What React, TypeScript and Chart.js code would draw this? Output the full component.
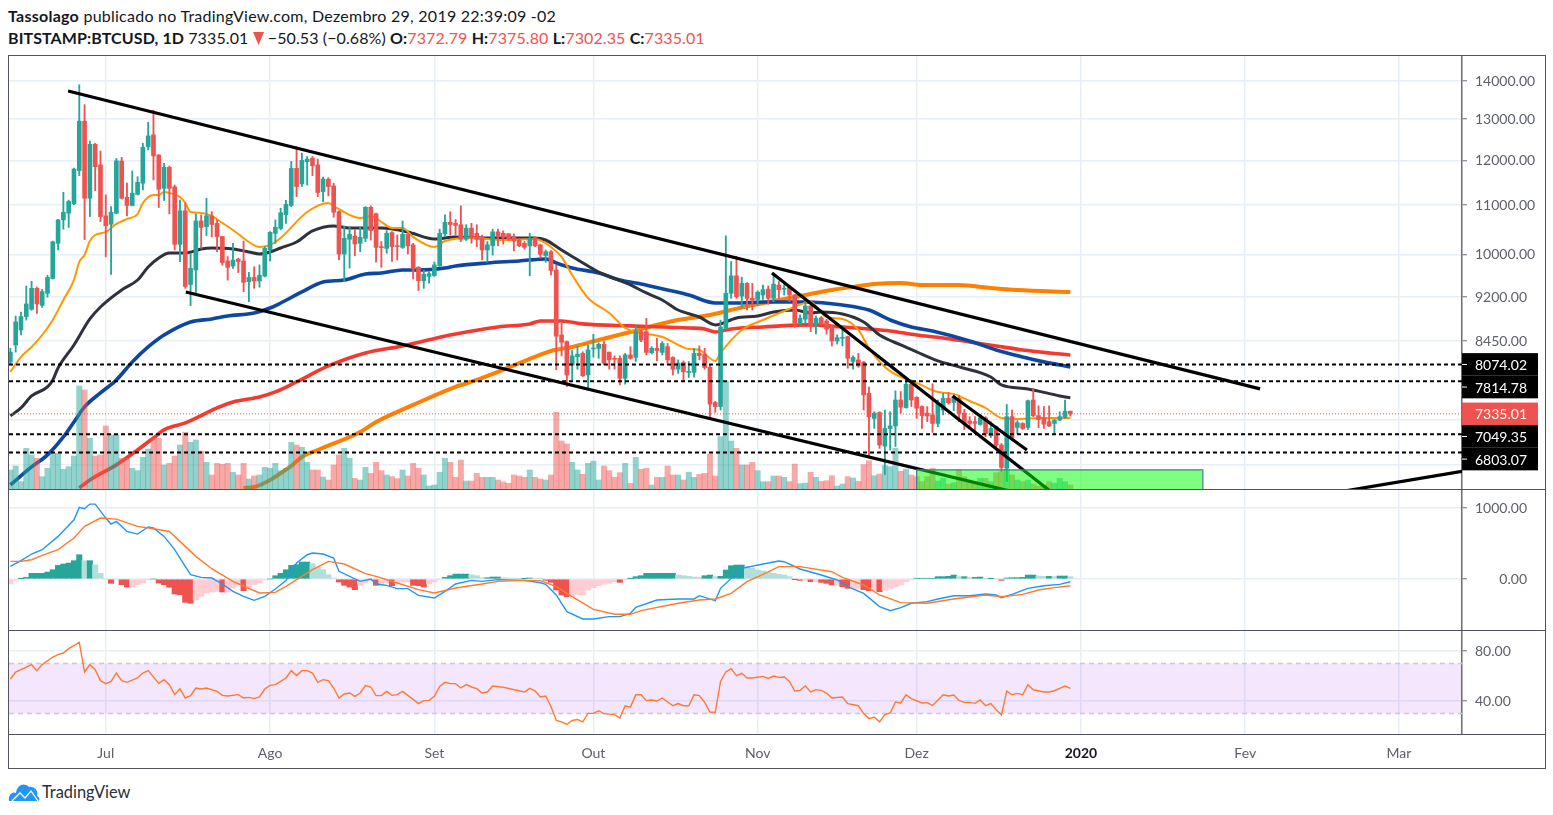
import React, { useEffect, useRef } from "react";
import { Chart, registerables } from "chart.js";

Chart.register(...registerables);

const FIRST_DAY = -18; // candle index, 0 = 1 July 2019
const monthDays = [0, 31, 62, 92, 123, 153, 184, 215, 244];
const monthLabels = ["Jul", "Ago", "Set", "Out", "Nov", "Dez", "2020", "Fev", "Mar"];

const opens = [
  8110,8384,8633,8860,8985,9360,9055,9270,9540,10215,
  10690,10830,11030,11765,12950,11150,12380,11895,10775,10600,
  10830,11985,11170,10995,11235,11480,12325,12610,12125,11365,
  11840,11400,10195,10880,9430,9700,10670,10550,10775,10620,
  10350,9870,9775,9905,9870,9480,9560,9495,9585,10085,
  10415,10515,10800,10995,11815,11465,11970,12050,11895,11295,
  11570,11420,10865,10005,10295,10360,10215,10315,10955,10820,
  10150,10115,10430,10165,10135,10395,10185,9750,9500,9580,
  9595,9780,10405,10640,10620,10590,10295,10520,10415,10335,
  10085,10170,10445,10415,10405,10345,10280,10215,10165,10330,
  10185,9975,10050,9700,8550,8440,8065,8195,8250,7910,
  8320,8330,8395,8265,8170,8170,7860,8225,8185,8605,
  8605,8260,8330,8265,8358,8185,8000,8105,7950,7950,
  8250,8235,8030,7500,7440,8660,9270,9590,9220,9450,
  9180,9160,9240,9345,9180,9420,9345,9380,9240,8745,
  8815,9045,8715,8840,8785,8690,8450,8495,8522,8120,
  8145,8110,7635,7270,7355,6890,7130,7165,7535,7425,
  7770,7575,7440,7345,7320,7200,7390,7560,7500,7560,
  7345,7235,7225,7185,7280,7030,7155,6905,6600,7295,
  7145,7200,7145,7535,7310,7280,7225,7200,7248,7285,
  7372.79,
];
const highs = [
  8330,8870,8940,9400,9490,9385,9340,9600,10260,10700,
  11280,11110,11820,13900,13370,12460,12405,12220,11220,10970,
  12045,12070,11480,11755,11625,12405,12920,13230,12135,11932,
  11870,11440,11110,11050,10020,10815,10795,11150,10865,10690,
  10350,9955,10215,9925,10260,9655,9760,9795,10150,10450,
  10690,10935,11105,11975,12325,12170,12090,12090,12030,11615,
  11605,11480,10880,10565,10550,10485,10540,10970,10985,10835,
  10250,10470,10450,10380,10665,10395,10215,9765,9700,9670,
  9850,10500,10795,10860,10700,10985,10590,10620,10590,10380,
  10250,10500,10500,10465,10415,10405,10315,10250,10415,10345,
  10200,10085,10070,9795,8745,8450,8295,8358,8275,8385,
  8560,8420,8440,8275,8210,8210,8250,8358,8720,8633,
  8830,8358,8495,8440,8410,8195,8145,8130,8120,8330,
  8370,8330,8065,7515,8800,10365,9860,9955,9565,9465,
  9450,9315,9420,9405,9640,9485,9485,9420,9250,8890,
  9150,9060,8870,8860,8815,8715,8550,8690,8530,8210,
  8250,8120,7725,7365,7365,7390,7365,7670,7660,7860,
  7835,7585,7450,7440,7775,7535,7635,7645,7610,7595,
  7400,7295,7295,7320,7295,7225,7165,6925,7470,7390,
  7240,7210,7535,7710,7450,7440,7450,7258,7365,7535,
  7375.8,
];
const lows = [
  8060,8270,8550,8800,8970,8915,9020,9200,9530,10085,
  10500,10535,11010,11650,10290,10760,11315,10655,9950,9615,
  10815,11130,10775,10985,11220,11330,12245,11552,10950,11100,
  10815,10085,9857,9360,9050,9270,10115,10370,10340,10050,
  9790,9510,9730,9650,9300,9120,9360,9380,9570,9870,
  10215,10485,10620,10970,11185,11405,11440,11650,11185,11075,
  11200,10745,9890,9480,9735,9970,10050,10250,10280,9850,
  9750,10020,9860,9890,10115,10005,9530,9320,9360,9455,
  9580,9765,10345,10380,10380,10250,10270,10215,10150,9890,
  9850,9985,10170,10200,10270,10065,10150,10100,9590,10150,
  9925,9845,9605,7990,8210,7735,7835,8000,7885,7700,
  8190,8170,8065,8000,8000,7760,7770,8155,8120,8440,
  8225,8240,8135,8225,8093,7910,7935,7810,7870,7875,
  8145,8000,7295,7357,7390,8645,9180,9180,9005,8975,
  8975,9060,9160,9075,9120,9180,9240,9120,8675,8720,
  8745,8605,8565,8715,8565,8370,8400,8370,8015,8000,
  8030,7390,6750,7130,6860,6520,6840,6885,7345,7415,
  7440,7270,7130,7225,7075,7155,7320,7475,7380,7225,
  7115,7130,7060,7175,7017,7005,6840,6555,6430,6970,
  7055,7115,7115,7295,7140,7130,7155,7050,7240,7270,
  7302.35,
];
const closes = [
  8270,8770,8860,9080,9360,9080,9300,9560,10245,10690,
  10850,11080,11800,12950,11150,12380,11855,10760,10570,10850,
  11990,11150,10995,11260,11500,12310,12585,12105,11345,11840,
  11365,10195,10880,9395,9730,10670,10535,10775,10595,10350,
  9840,9750,9890,9860,9470,9560,9495,9600,10115,10435,
  10540,10840,11020,11815,11405,12000,12030,11875,11275,11575,
  11405,10850,10005,10315,10395,10200,10335,10955,10470,10135,
  10130,10415,10150,10150,10395,10165,9715,9500,9620,9630,
  9795,10415,10640,10595,10575,10295,10520,10330,10295,10085,
  10185,10445,10345,10335,10295,10260,10165,10135,10315,10165,
  10000,10050,9690,8530,8430,7910,8210,8235,7900,8305,
  8330,8395,8093,8145,8155,7860,8225,8170,8605,8465,
  8265,8330,8295,8410,8145,8000,8093,7960,7960,8250,
  8215,8025,7475,7440,8680,9270,9590,9210,9450,9180,
  9150,9290,9335,9180,9435,9335,9360,9240,8755,8830,
  9045,8690,8830,8730,8645,8450,8505,8510,8170,8185,
  8050,7610,7295,7345,6905,7130,7165,7535,7430,7770,
  7535,7415,7310,7305,7200,7486,7560,7495,7585,7345,
  7200,7200,7200,7280,7060,7130,6905,6610,7295,7005,
  7210,7130,7525,7310,7255,7190,7165,7248,7295,7373,
  7335.01,
];
const volumes = [
  5700,6900,2200,12200,10200,9200,3700,6200,10700,10700,
  5900,6700,9900,30900,29700,15200,9900,10200,18900,16200,
  16200,9200,9200,6200,5500,9500,12000,15200,15200,7200,
  7700,9900,13200,17000,14000,14700,11400,8000,4200,7700,
  7400,7700,5000,4200,7700,3000,3900,4200,6500,6200,
  7700,5500,6200,14000,13200,12500,8000,5700,5700,3600,
  2700,7200,10200,12200,9200,3200,2700,6500,4700,8000,
  5500,4200,3700,3100,5700,3900,7700,6200,4200,900,
  1200,5000,9200,8000,3500,8700,2400,2400,4700,3500,
  3500,3500,2700,2100,1700,4200,3900,3500,5700,3500,
  3000,2700,4200,23000,14400,13500,8000,5700,4400,7700,
  8400,2700,6900,5500,3500,4900,7700,1700,9500,5900,
  6200,1200,3500,3500,6900,4200,4200,2700,5000,3500,
  4400,4700,10500,3900,15700,32400,14400,12200,7200,7200,
  8000,5500,2200,2200,3900,3900,3500,2200,7500,1600,
  1800,5000,3500,2300,2500,4000,900,1500,3700,3300,
  2300,7300,8500,4000,4500,7000,6700,12200,5300,6000,
  4200,3700,2200,3700,6200,2400,3200,1500,1900,5700,
  3700,2700,2200,3200,3200,2200,4900,5200,5700,4200,
  2700,2200,2700,1500,900,1200,2200,1700,3200,2200,
  1200,
];

const ma20Days = [-18,-16,-14,-12,-10,-8,-6,-5,-4,-3,-2,0,2,4,6,7,9,10,11,12,14,15,16,18,20,22,24,27,29,31,33,38,42,43,48,50,52,54,56,58,62,64,69,75,81,84,86,88,91,95,98,100,105,110,112,115,116,120,124,129,133,136,139,142,144,147,150,153,157,160,163,166,169,172,176,182];
const ma20Values = [7957,8192,8353,8549,8802,9151,9513,9852,9986,10261,10382,10443,10606,10710,10813,11046,11220,11220,11285,11263,11176,11046,10856,10836,10773,10627,10483,10241,10143,10182,10322,10856,11046,10982,10730,10773,10647,10524,10524,10342,10143,10261,10322,10281,10301,10143,9948,9605,9186,8923,8666,8599,8517,8320,8304,8129,8256,8633,8802,8992,9115,8853,8820,8633,8336,8035,7880,7789,7654,7625,7521,7420,7277,7263,7277,7277];
const ma50Days = [-18,-16,-14,-11,-10,-9,-6,-3,-1,3,6,8,10,12,15,18,20,24,27,29,31,33,36,39,43,46,52,57,62,66,72,81,83,86,91,93,99,102,105,108,112,115,116,119,123,126,130,133,135,139,143,146,150,153,157,161,167,169,174,180,182];
const ma50Values = [7306,7420,7595,7729,7834,8019,8385,8819,9027,9330,9513,9757,9929,10025,10025,10103,10123,10103,10045,10006,10045,10123,10241,10463,10566,10524,10524,10443,10301,10342,10322,10322,10281,10084,9776,9662,9421,9276,9151,8974,8853,8718,8735,8836,8870,8940,8974,8923,8940,8905,8768,8549,8385,8272,8129,8035,7880,7759,7699,7595,7566];
const ma100Days = [-18,-14,-11,-8,-6,-4,-1,2,5,8,11,16,20,23,28,31,33,37,41,45,49,52,56,59,64,66,72,78,83,85,88,93,97,101,106,110,115,119,124,132,139,144,148,152,156,163,168,173,177,182];
const ma100Values = [6390,6617,6773,7014,7221,7435,7640,7834,8114,8353,8549,8768,8819,8870,8923,9009,9097,9294,9476,9513,9624,9643,9700,9700,9738,9776,9833,9871,9910,9833,9738,9643,9513,9439,9330,9240,9097,9097,9115,9115,9062,8974,8802,8684,8616,8451,8304,8192,8114,8035];
const ma200Days = [-5,-3,2,6,9,11,15,19,21,24,29,32,36,42,49,56,65,74,80,82,86,90,99,105,110,113,115,118,124,133,139,144,148,153,158,163,168,173,178,182];
const ma200Values = [6352,6452,6643,6838,7000,7110,7207,7348,7420,7506,7580,7654,7804,8050,8256,8369,8549,8684,8735,8785,8785,8735,8701,8684,8666,8650,8599,8650,8684,8718,8684,8650,8616,8549,8500,8434,8369,8304,8256,8224];
const ema200Days = [26,28,35,37,40,48,51,58,66,70,74,80,84,88,93,99,107,114,118,124,129,132,137,141,145,150,154,161,167,172,182];
const ema200Values = [6352,6364,6630,6746,6838,7082,7221,7463,7729,7834,7957,8160,8288,8353,8467,8599,8785,8888,8974,9097,9186,9240,9330,9386,9439,9458,9421,9421,9366,9330,9294];

const trendFromDays = [-7.1, 15.1, 125.7, 159.8, 233.8];
const trendFromPrices = [13731, 9294, 9643, 7595, 6315];
const trendToDays = [217.8, 183.8, 182.5, 173.8, 255.9];
const trendToPrices = [7699, 6110, 6098, 6838, 6559];

const levelPrices = [8074.02, 7814.78, 7049.35, 6803.07];
const lastPrice = 7335.01;
const zoneFromDay = 153;
const zoneToDay = 207;
const zoneTopPrice = 6578;
const zoneBottomPrice = 5800;

const priceTicks = [14000, 13000, 12000, 11000, 10000, 9200, 8450, 7250, 6650];
const macdTicks = [1000, 0];
const rsiTicks = [80, 40];
const rsiUpper = 70;
const rsiLower = 30;

const macdDays = [-18,-16,-14,-12,-9,-6,-5,-4,-3,-2,0,1,2,4,6,8,9,11,13,14,16,18,20,22,24,26,28,30,32,34,36,38,39,41,43,44,48,50,51,53,55,57,59,62,64,66,69,71,74,79,82,83,85,87,90,92,95,97,99,100,104,108,111,112,115,116,120,124,127,128,131,135,138,140,143,146,148,150,152,155,157,160,163,166,168,169,171,174,177,180,182];
const macdValues = [178,258,352,413,600,834,1008,990,1055,1055,858,774,811,670,633,732,718,600,413,295,61,23,14,-70,-173,-244,-300,-244,-141,-23,225,342,366,352,295,108,-33,0,-70,-89,-136,-136,-230,-267,-173,-70,-19,-33,-9,-19,-52,-75,-225,-460,-563,-563,-530,-530,-483,-399,-296,-281,-281,-235,-305,-131,150,211,253,244,141,56,-14,-108,-202,-389,-446,-403,-342,-319,-281,-235,-235,-211,-225,-263,-216,-131,-94,-75,-38];
const signalDays = [-18,-16,-14,-12,-9,-6,-4,-1,2,6,9,12,14,17,20,24,29,32,34,39,42,45,49,51,55,59,62,66,71,74,79,82,85,88,92,96,99,101,108,112,115,118,121,124,127,131,137,139,143,146,150,155,160,166,169,173,176,179,182];
const signalValues = [248,248,272,333,413,577,741,858,844,741,708,670,530,319,145,-33,-197,-188,-103,131,248,211,75,38,-56,-150,-197,-127,-70,-33,-19,-23,-108,-249,-427,-497,-497,-446,-342,-296,-281,-202,-38,66,174,174,103,23,-84,-225,-333,-342,-281,-225,-249,-216,-155,-122,-94];
const histogram = [
  -70,-19,5,23,80,80,80,98,131,192,
  211,225,258,342,258,258,202,80,0,-61,
  -10,-80,-113,-113,-80,-56,-5,0,-56,-80,
  -117,-211,-220,-328,-342,-291,-244,-197,-183,-174,
  -183,-183,-127,-80,-164,-117,-80,-56,-14,0,
  47,80,131,192,202,239,239,216,164,131,
  60,14,-42,-89,-113,-150,-89,-56,-23,-89,
  -89,-56,-94,-56,-42,-42,-89,-94,-113,-70,
  -42,-14,23,47,70,70,70,60,47,18,
  18,28,28,18,14,9,5,5,14,9,
  5,-19,-47,-155,-225,-249,-249,-225,-225,-155,
  -122,-94,-75,-61,-38,-47,-9,5,33,47,
  80,80,80,80,80,80,56,47,38,28,
  23,47,56,33,38,127,188,197,197,174,
  150,127,113,94,80,66,56,33,-2,-19,
  -19,-38,-38,-47,-61,-84,-84,-108,-131,-131,
  -131,-150,-164,-164,-178,-160,-131,-108,-84,-38,
  -14,9,9,9,9,33,33,38,56,33,
  33,23,23,28,5,5,0,-19,14,19,
  19,23,56,56,42,38,38,33,42,42,
  33,
];

const rsiDays = [-18,-17,-16,-14,-13,-12,-10,-9,-8,-7,-5,-4,-3,-2,-1,0,1,2,3,4,6,7,8,10,11,12,13,14,15,16,17,18,19,21,22,23,25,26,27,28,29,30,31,32,33,34,35,36,37,38,39,40,41,42,43,44,45,46,47,48,49,50,51,52,53,54,55,56,57,59,60,61,62,63,64,65,66,67,68,69,70,71,72,73,75,79,80,81,82,83,84,85,86,87,88,89,90,91,92,93,94,96,97,98,99,100,101,102,103,104,105,107,108,109,110,111,112,113,114,115,116,117,118,119,120,121,122,124,125,126,127,128,129,130,131,132,133,134,135,136,137,139,140,142,143,144,145,146,147,148,149,150,151,152,154,155,156,158,159,160,161,162,163,164,165,166,167,168,169,170,171,172,173,174,175,177,178,179,181,182];
const rsiValues = [57.6,63.2,65.1,69.1,64.3,69.1,75.2,77.1,78.4,81.9,86.9,63.2,69.1,65.1,56.3,53.9,55.7,62.4,56.3,54.9,58.4,62.4,64.3,54.1,57.1,53.1,45.1,49.9,42.4,44.3,50.4,49.6,50.4,47.7,44.5,44,45.1,42.4,42.9,41.9,43.2,49.6,52.5,53.1,55.7,58.4,64.3,60.3,64.3,64.3,62.4,54.9,57.1,56.3,50.4,42.4,45.6,46.4,43.7,46.4,52.3,51.2,44.3,44.3,47.7,44.5,45.1,47.7,44.5,37.9,40.3,40.5,43.7,51.7,54.9,53.9,53.9,50.4,53.1,51.2,49.9,46.4,47.2,52,51,47.2,50.1,48.2,43.2,44,35.6,24.4,23.3,21.2,24.4,25.2,23.3,30.1,30.1,32.2,29.9,29.1,26.4,36.2,35.1,45,45,40.3,40.8,40,42.4,36.2,37.9,36.2,36.2,45,44.3,38.9,31.2,30.9,55.7,63.2,65.9,60.3,62.2,58.4,58.4,59.7,58.1,60,58.9,59.2,55.7,48,48.5,52,47.2,49.1,48.5,46.4,42.4,43.2,37.9,36.2,29.9,25.9,27.2,23.3,29.1,30.4,39.2,38.4,45,41.9,38.4,38.7,36.5,45,44,44.8,40.5,38.9,38.9,38.1,40.8,36.2,37.9,33,28.9,47.9,45,46.1,45,53,49,47.2,47.2,48.2,52,50.1];

const X_MIN = -18.26;
const X_MAX = 255.9;
const PRICE_MIN = 6339;
const PRICE_MAX = 14697;

const FONT = "Lato";
const TEXT = "#5d606b";
const GRID = "#e8eff6";
const FRAME = "#50535e";
const UP = "#26a69a";
const DOWN = "#ef5350";

const zip = (xs: number[], ys: number[]) => xs.map((x, i) => ({ x, y: ys[i] }));
const dayOf = (i: number) => FIRST_DAY + i;

const noPadding = (s: any) => {
  s.paddingTop = 0;
  s.paddingBottom = 0;
  s.paddingLeft = 0;
  s.paddingRight = 0;
};

function xAxis(labels: boolean, height: number) {
  return {
    type: "linear",
    min: X_MIN,
    max: X_MAX,
    offset: false,
    bounds: "data",
    grid: { color: GRID, lineWidth: 1.5, drawTicks: false, offset: false },
    border: { display: false },
    ticks: {
      display: labels,
      autoSkip: false,
      maxRotation: 0,
      padding: 11,
      color: (c: any) => (c.tick && c.tick.value === 184 ? "#131722" : TEXT),
      font: (c: any) => ({ family: FONT, size: 14, weight: c.tick && c.tick.value === 184 ? "bold" : "normal" }),
      callback: (v: any) => monthLabels[monthDays.indexOf(Number(v))] ?? "",
    },
    afterBuildTicks: (s: any) => {
      s.ticks = monthDays.map((value) => ({ value }));
    },
    afterFit: (s: any) => {
      s.height = height;
      noPadding(s);
    },
  };
}

function yAxis(type: string, min: number, max: number, ticks: number[], crossAlign: string, width = 83) {
  return {
    type,
    position: "right",
    min,
    max,
    bounds: "data",
    grid: { color: GRID, lineWidth: 1.5, tickColor: "#6a6d78", tickLength: 5, tickWidth: 1 },
    border: { display: true, color: "#6a6d78", width: 1.5 },
    ticks: {
      autoSkip: false,
      padding: 8,
      crossAlign,
      color: TEXT,
      font: { family: FONT, size: 14 },
      callback: (v: any) => Number(v).toFixed(2),
    },
    afterBuildTicks: (s: any) => {
      s.ticks = ticks.map((value) => ({ value }));
    },
    afterFit: (s: any) => {
      s.width = width;
      noPadding(s);
    },
  };
}

const line = (data: any[], color: string, width: number, order: number, extra: any = {}) => ({
  type: "line",
  data,
  borderColor: color,
  borderWidth: width,
  pointRadius: 0,
  fill: false,
  order,
  borderCapStyle: "butt",
  ...extra,
});

const priceLabels = {
  id: "priceLabels",
  afterDraw(chart: any) {
    const { ctx, scales } = chart;
    const items = [...levelPrices, lastPrice]
      .map((value) => ({ value, y: scales.y.getPixelForValue(value) }))
      .sort((a, b) => a.y - b.y);
    const h = 22.6;
    const left = scales.y.left;
    let bottom = -Infinity;
    ctx.save();
    ctx.font = `14px ${FONT}`;
    ctx.textBaseline = "middle";
    items.forEach((it) => {
      const top = Math.max(it.y - h / 2, bottom);
      bottom = top + h;
      ctx.fillStyle = it.value === lastPrice ? DOWN : "#000";
      ctx.fillRect(left, top, 76, h);
      ctx.fillStyle = "#fff";
      ctx.fillText(it.value.toFixed(2), left + 13, top + h / 2 + 1);
      if (it.value !== lastPrice) ctx.fillRect(left, top + h / 2 - 0.5, 5, 1);
    });
    ctx.restore();
  },
};

const base = {
  responsive: false,
  maintainAspectRatio: false,
  animation: false,
  devicePixelRatio: 1,
  events: [],
  layout: { autoPadding: false, padding: 0 },
  plugins: { legend: { display: false }, tooltip: { enabled: false } },
};

function mainChart(canvas: HTMLCanvasElement) {
  const idx = opens.map((_, i) => i);
  const candleColor = idx.map((i) => (closes[i] >= opens[i] ? UP : DOWN));
  const volColor = idx.map((i) => (closes[i] >= opens[i] ? "rgba(38,166,154,0.5)" : "rgba(239,83,80,0.5)"));
  const datasets: any[] = [
    line(zip(ema200Days, ema200Values), "#ff7f00", 4, 64, { cubicInterpolationMode: "monotone" }),
    line(zip(ma200Days, ma200Values), "#f4392f", 3.6, 63, { cubicInterpolationMode: "monotone" }),
    line(zip(ma100Days, ma100Values), "#0d47a1", 3.6, 62, { cubicInterpolationMode: "monotone" }),
    line(zip(ma50Days, ma50Values), "#2f323d", 3, 61, { cubicInterpolationMode: "monotone" }),
    line(zip(ma20Days, ma20Values), "#ff9800", 2, 60, { cubicInterpolationMode: "monotone" }),
    {
      type: "bar",
      yAxisID: "vol",
      grouped: false,
      barThickness: 5.3,
      order: 55,
      data: idx.map((i) => ({ x: dayOf(i), y: volumes[i] })),
      backgroundColor: volColor,
    },
    {
      type: "bar",
      grouped: false,
      barThickness: 1.2,
      order: 52,
      data: idx.map((i) => ({ x: dayOf(i), y: [lows[i], highs[i]] })),
      backgroundColor: candleColor,
    },
    {
      type: "bar",
      grouped: false,
      barThickness: 4,
      minBarLength: 1,
      order: 51,
      data: idx.map((i) => ({ x: dayOf(i), y: [opens[i], closes[i]] })),
      backgroundColor: candleColor,
    },
    line(zip([X_MIN, X_MAX], [lastPrice, lastPrice]), DOWN, 1, 40, { borderDash: [1, 2] }),
    ...levelPrices.map((p) => line(zip([X_MIN, X_MAX], [p, p]), "#000", 2, 30, { borderDash: [4, 3] })),
    ...trendFromDays.map((d, i) =>
      line([{ x: d, y: trendFromPrices[i] }, { x: trendToDays[i], y: trendToPrices[i] }], "#000", 3.2, 20)
    ),
    line(
      zip([zoneFromDay, zoneFromDay, zoneToDay, zoneToDay], [zoneBottomPrice, zoneTopPrice, zoneTopPrice, zoneBottomPrice]),
      "#3f7f86",
      1.2,
      10,
      { fill: "start", backgroundColor: "rgba(0,255,0,0.5)" }
    ),
  ];
  return new Chart(canvas, {
    type: "line",
    data: { datasets },
    options: {
      ...base,
      scales: {
        x: xAxis(false, 0),
        y: yAxis("logarithmic", PRICE_MIN, PRICE_MAX, priceTicks, "near"),
        vol: { type: "linear", display: false, min: 0, max: 129900 },
      },
    } as any,
    plugins: [priceLabels],
  } as any);
}

function macdChart(canvas: HTMLCanvasElement) {
  const colors = histogram.map((v, i) => {
    const rising = i === 0 || v >= histogram[i - 1];
    if (v >= 0) return rising ? "#26a69a" : "#b2dfdb";
    return rising ? "#ffcdd2" : "#ef5350";
  });
  return new Chart(canvas, {
    type: "line",
    data: {
      datasets: [
        {
          type: "bar",
          grouped: false,
          barThickness: 5.4,
          order: 5,
          data: histogram.map((y, i) => ({ x: dayOf(i), y })),
          backgroundColor: colors,
        },
        line(zip(signalDays, signalValues), "#ff7a2e", 1.4, 2),
        line(zip(macdDays, macdValues), "#2196f3", 1.4, 3),
      ] as any,
    },
    options: {
      ...base,
      scales: { x: xAxis(false, 0), y: yAxis("linear", -718, 1253.5, macdTicks, "far", 65) },
    } as any,
  } as any);
}

function rsiChart(canvas: HTMLCanvasElement) {
  const ends = [X_MIN, X_MAX];
  return new Chart(canvas, {
    type: "line",
    data: {
      datasets: [
        line(zip(ends, [rsiUpper, rsiUpper]), "#cfc8d4", 1.6, 5, {
          borderDash: [5, 4],
          fill: { target: { value: rsiLower } },
          backgroundColor: "rgba(150,30,240,0.11)",
        }),
        line(zip(ends, [rsiLower, rsiLower]), "#cfc8d4", 1.6, 4, { borderDash: [5, 4] }),
        line(zip(rsiDays, rsiValues), "#ff7a2e", 1.4, 1),
      ] as any,
    },
    options: {
      ...base,
      scales: { x: xAxis(true, 34), y: yAxis("linear", 13.6, 96, rsiTicks, "near") },
    } as any,
  } as any);
}

const abs = (left: number, top: number, width: number, height: number): React.CSSProperties => ({
  position: "absolute",
  left,
  top,
  width,
  height,
});

export default function App() {
  const mainRef = useRef<HTMLCanvasElement>(null);
  const macdRef = useRef<HTMLCanvasElement>(null);
  const rsiRef = useRef<HTMLCanvasElement>(null);

  useEffect(() => {
    const charts = [mainChart(mainRef.current!), macdChart(macdRef.current!), rsiChart(rsiRef.current!)];
    return () => charts.forEach((c) => c.destroy());
  }, []);

  const head: React.CSSProperties = {
    position: "absolute",
    left: 8,
    fontFamily: FONT,
    fontSize: 16,
    lineHeight: "20px",
    color: "#131722",
    whiteSpace: "nowrap",
  };
  const red = { color: DOWN };
  const b = { fontWeight: 700 };

  return (
    <div style={{ position: "absolute", left: 0, top: 0, width: 1553, height: 815, background: "#fff", overflow: "hidden" }}>
      <div style={{ ...head, top: 6, letterSpacing: 0.25 }}>
        <span style={b}>Tassolago</span> publicado no TradingView.com, Dezembro 29, 2019 22:39:09 -02
      </div>
      <div style={{ ...head, top: 28, letterSpacing: 0.1 }}>
        <span style={b}>BITSTAMP:BTCUSD, 1D</span> 7335.01{" "}
        <svg width="11" height="13" viewBox="0 0 11 13" style={{ verticalAlign: -1 }}>
          <path d="M0 0 L11 0 L5.5 13 Z" fill={DOWN} />
        </svg>{" "}
        −50.53 (−0.68%){" "}
        <span style={b}>O:</span><span style={red}>7372.79</span> <span style={b}>H:</span><span style={red}>7375.80</span>{" "}
        <span style={b}>L:</span><span style={red}>7302.35</span> <span style={b}>C:</span><span style={red}>7335.01</span>
      </div>

      <canvas ref={mainRef} width={1536} height={433} style={{ ...abs(9, 56, 1536, 433), display: "block" }} />
      <canvas ref={macdRef} width={1518} height={140} style={{ ...abs(9, 490, 1518, 140), display: "block" }} />
      <canvas ref={rsiRef} width={1536} height={137} style={{ ...abs(9, 631, 1536, 137), display: "block" }} />

      <div style={{ ...abs(8, 55, 1536, 712), border: `1px solid ${FRAME}`, pointerEvents: "none" }} />
      <div style={{ ...abs(8, 489, 1537, 1), background: FRAME }} />
      <div style={{ ...abs(8, 630, 1537, 1), background: FRAME }} />
      <div style={{ ...abs(8, 734, 1537, 1), background: FRAME }} />

      <svg style={abs(8, 781, 32, 22)} viewBox="0 0 32 22">
        <path d="M1 20 C0 14 4 10 8 12 C9 4 16 1 21 6 C26 5 31 10 29 15 C32 16 32 20 30 20 Z" fill="#2196f3" />
        <path d="M4 20 L12 12 L17 17 L23 10 L30 20" fill="none" stroke="#fff" strokeWidth="1.3" />
      </svg>
      <div style={{ position: "absolute", left: 42, top: 782, fontFamily: FONT, fontSize: 16.4, lineHeight: "20px", color: "#2a2e39" }}>
        TradingView
      </div>
    </div>
  );
}
